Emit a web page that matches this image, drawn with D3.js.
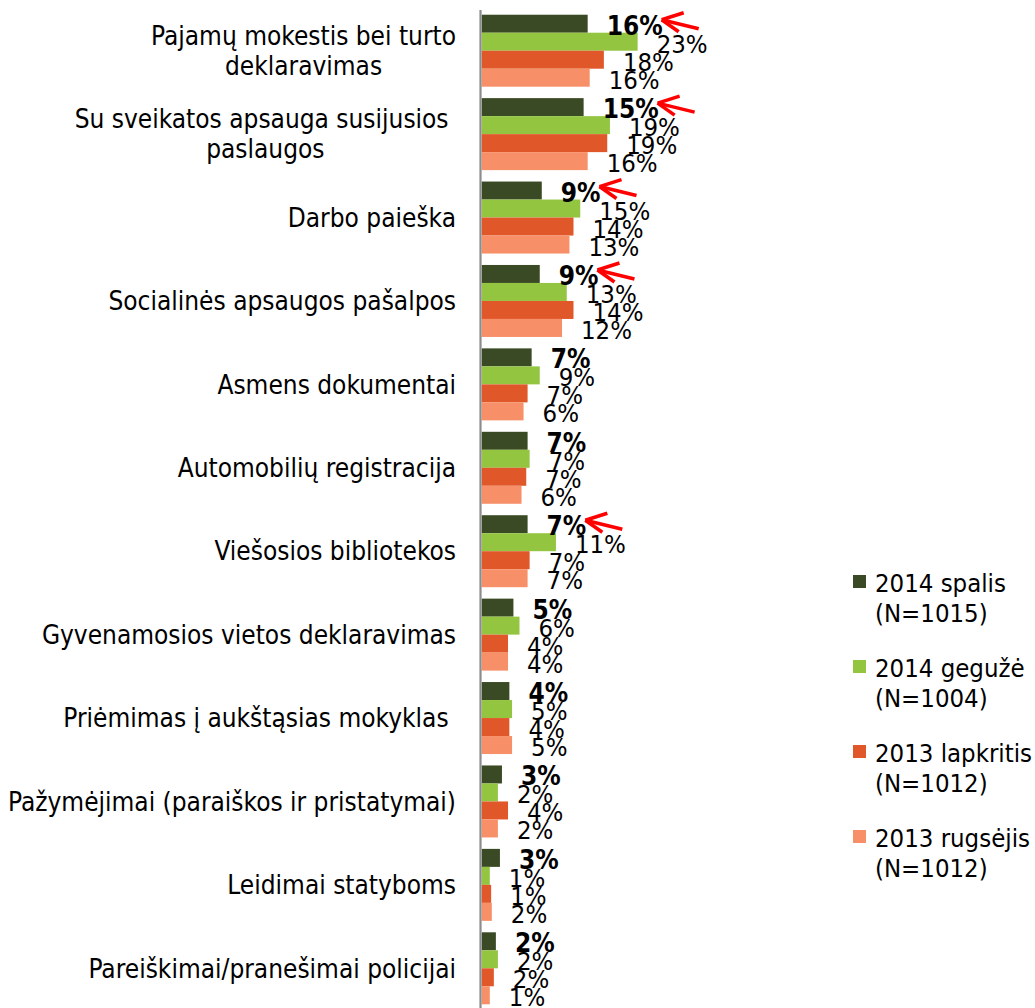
<!DOCTYPE html>
<html>
<head>
<meta charset="utf-8">
<script src="https://cdn.jsdelivr.net/npm/d3@7"></script>
<style>
  body { margin: 0; background: #fff; }
  svg { display: block; font-family: "DejaVu Sans Condensed", "DejaVu Sans", sans-serif; }
  text { white-space: pre; }
</style>
</head>
<body>
<script>
// kategorijos (eilutės atskirtos \n)
const categories = [
  "Pajamų mokestis bei turto\ndeklaravimas",
  "Su sveikatos apsauga susijusios \npaslaugos",
  "Darbo paieška",
  "Socialinės apsaugos pašalpos",
  "Asmens dokumentai",
  "Automobilių registracija",
  "Viešosios bibliotekos",
  "Gyvenamosios vietos deklaravimas",
  "Priėmimas į aukštąsias mokyklas ",
  "Pažymėjimai (paraiškos ir pristatymai)",
  "Leidimai statyboms",
  "Pareiškimai/pranešimai policijai"
];

const seriesNames = [
  "2014 spalis\n(N=1015)",
  "2014 gegužė\n(N=1004)",
  "2013 lapkritis\n(N=1012)",
  "2013 rugsėjis\n(N=1012)"
];

// reikšmės, %
const spalis2014 = [15.7, 15.1, 8.9, 8.6, 7.4, 6.8, 6.8, 4.7, 4.1, 3.0, 2.7, 2.1];
const geguze2014 = [23.1, 19.0, 14.6, 12.6, 8.6, 7.1, 11.0, 5.6, 4.5, 2.4, 1.2, 2.4];
const lapkritis2013 = [18.1, 18.6, 13.6, 13.6, 6.8, 6.6, 7.1, 3.9, 4.1, 3.9, 1.4, 1.8];
const rugsejis2013 = [16.0, 15.7, 13.0, 11.9, 6.2, 5.9, 6.8, 3.9, 4.5, 2.4, 1.5, 1.2];

// kurios kategorijos pažymėtos rodykle
const arrowed = [0, 1, 2, 3, 6];

const colors = ["#3a4a24", "#93c540", "#e0582a", "#f79068"];
const allValues = [spalis2014, geguze2014, lapkritis2013, rugsejis2013];

const W = 1035, H = 1008;
const svg = d3.select("body").append("svg").attr("width", W).attr("height", H);
svg.append("rect").attr("width", W).attr("height", H).attr("fill", "#fff");

const x = d3.scaleLinear().domain([0, 25]).range([481.7, 481.7 + 25 * 6.75]);
const y = d3.scaleBand().domain(d3.range(categories.length))
  .range([9, 1010]).paddingInner(0.137).paddingOuter(0.0685);
const ySub = d3.scaleBand().domain(d3.range(seriesNames.length)).range([0, y.bandwidth()]);

const g = svg.append("g");

// barai
const groups = g.selectAll("g.grp")
  .data(categories)
  .join("g")
  .attr("class", "grp")
  .attr("transform", (d, i) => "translate(0," + y(i) + ")");

groups.each(function (cat, ci) {
  const grp = d3.select(this);
  allValues.forEach((vals, si) => {
    const v = vals[ci];
    grp.append("rect")
      .attr("x", x(0))
      .attr("y", ySub(si))
      .attr("width", x(v) - x(0))
      .attr("height", ySub.bandwidth())
      .attr("fill", colors[si]);
  });
});

// ašis
const axis = g.append("g")
  .attr("transform", "translate(480.5,0)")
  .call(d3.axisLeft(y).tickSize(0).tickSizeOuter(0).tickFormat(""));
axis.select(".domain").attr("stroke", "#8c8c8c").attr("stroke-width", 2.2);
axis.select(".domain").attr("d", "M0,10V1008");

// reikšmių etiketės
groups.each(function (cat, ci) {
  const grp = d3.select(this);
  allValues.forEach((vals, si) => {
    const v = vals[ci];
    const t = grp.append("text")
      .attr("x", x(v) + 19)
      .attr("y", ySub(si) + ySub.bandwidth() / 2 + 11)
      .attr("font-size", si === 0 ? 26 : 25.5)
      .attr("font-weight", si === 0 ? "bold" : "normal")
      .attr("fill", "#000")
      .text(Math.round(v) + "%");

    if (si === 0 && arrowed.includes(ci)) {
      const tipX = x(v) + 19 + t.node().getComputedTextLength() - 1;
      const tipY = ySub(0) + 5;
      const a = grp.append("g")
        .attr("stroke", "#ff0000")
        .attr("stroke-width", 3.5)
        .attr("stroke-linecap", "butt")
        .attr("fill", "none");
      a.append("line").attr("x1", tipX).attr("y1", tipY).attr("x2", tipX + 37).attr("y2", tipY + 9);
      a.append("line").attr("x1", tipX).attr("y1", tipY).attr("x2", tipX + 22).attr("y2", tipY - 7);
      a.append("line").attr("x1", tipX).attr("y1", tipY).attr("x2", tipX + 17).attr("y2", tipY + 12);
    }
  });
});

// kategorijų pavadinimai
const labelRight = 456;
const lineH = 30;
groups.each(function (cat, ci) {
  const grp = d3.select(this);
  const lines = cat.split("\n");
  const lbl = grp.append("text")
    .attr("font-size", 26)
    .attr("fill", "#000")
    .attr("text-anchor", "middle");
  const tspans = lines.map((ln, li) =>
    lbl.append("tspan")
      .attr("y", y.bandwidth() / 2 + (li - (lines.length - 1) / 2) * lineH + 9.3)
      .text(ln)
  );
  const widths = tspans.map(ts => ts.node().getComputedTextLength());
  const cx = labelRight - d3.max(widths) / 2;
  tspans.forEach(ts => ts.attr("x", cx));
});

// legenda
const legend = svg.append("g").attr("transform", "translate(853,0)");
seriesNames.forEach((name, i) => {
  const cy = 581.5 + i * 85;
  legend.append("rect")
    .attr("x", 0).attr("y", cy - 6.5)
    .attr("width", 13).attr("height", 13)
    .attr("fill", colors[i]);
  const t = legend.append("text").attr("font-size", 25.5).attr("fill", "#000");
  name.split("\n").forEach((ln, li) => {
    t.append("tspan").attr("x", 22).attr("y", cy + 10 + li * 30).text(ln);
  });
});
</script>
</body>
</html>
